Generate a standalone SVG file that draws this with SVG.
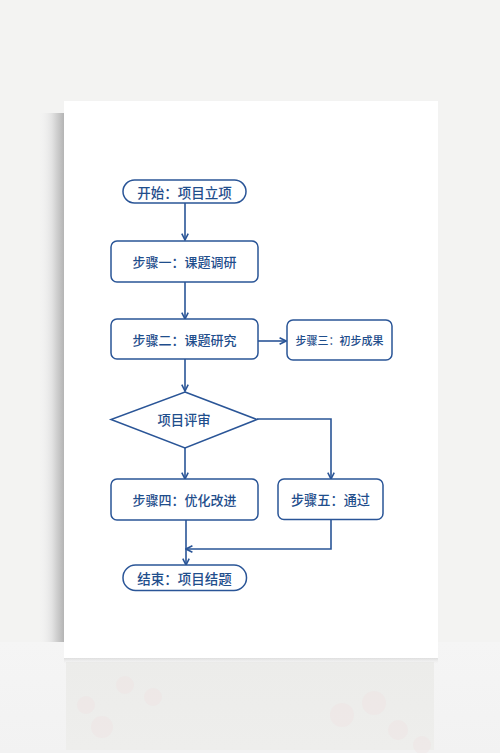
<svg xmlns="http://www.w3.org/2000/svg" width="500" height="753" viewBox="0 0 500 753">
<defs>
<linearGradient id="floor" x1="0" y1="0" x2="0" y2="1">
<stop offset="0" stop-color="#f5f5f5"/>
<stop offset="1" stop-color="#f2f2f2"/>
</linearGradient>
<linearGradient id="lshadow" x1="0" y1="0" x2="1" y2="0">
<stop offset="0" stop-color="#f0f0f0" stop-opacity="0"/>
<stop offset="0.5" stop-color="#e2e2e2"/>
<stop offset="1" stop-color="#b4b4b4"/>
</linearGradient>
<linearGradient id="bshadow" x1="0" y1="0" x2="0" y2="1">
<stop offset="0" stop-color="#a8a8a8"/>
<stop offset="1" stop-color="#e8e8e8" stop-opacity="0"/>
</linearGradient>
<linearGradient id="refl" x1="0" y1="0" x2="0" y2="1">
<stop offset="0" stop-color="#ececea"/>
<stop offset="1" stop-color="#eeeeec"/>
</linearGradient>
<marker id="arr" viewBox="0 0 10 10" refX="9" refY="5" markerWidth="8" markerHeight="8" markerUnits="userSpaceOnUse" orient="auto">
<path d="M1,1 L9,5 L1,9" fill="none" stroke="#2a5597" stroke-width="2"/>
</marker>
<style>
.box{fill:#fff;stroke:#2a5597;stroke-width:1.5}
.t{font-family:"Noto Sans CJK SC","Noto Sans",sans-serif;fill:#1f4e8c;text-anchor:middle;dominant-baseline:central;font-weight:500}
.c{fill:none;stroke:#2a5597;stroke-width:1.6}
</style>
</defs>
<!-- background -->
<rect x="0" y="0" width="500" height="753" fill="#f3f3f2"/>
<rect x="0" y="642" width="500" height="111" fill="url(#floor)"/>
<rect x="66" y="662" width="368" height="88" fill="url(#refl)"/>
<g fill="#f1dfe0" opacity="0.3">
<circle cx="125" cy="685" r="9"/><circle cx="153" cy="697" r="9"/><circle cx="86" cy="705" r="9"/><circle cx="102" cy="727" r="11"/>
<circle cx="342" cy="715" r="12"/><circle cx="374" cy="703" r="12"/><circle cx="398" cy="730" r="10"/><circle cx="422" cy="745" r="9"/>
</g>
<rect x="40" y="113" width="24" height="529" fill="url(#lshadow)"/>
<rect x="64" y="656" width="374" height="8" fill="url(#bshadow)" opacity="0.5"/>
<!-- paper -->
<rect x="64" y="101" width="374" height="557" fill="#ffffff"/>

<g id="connectors">
<line class="c" x1="185" y1="203" x2="185" y2="240" marker-end="url(#arr)"/>
<line class="c" x1="185" y1="282" x2="185" y2="319" marker-end="url(#arr)"/>
<line class="c" x1="258" y1="341" x2="286" y2="341" marker-end="url(#arr)"/>
<line class="c" x1="185" y1="359" x2="185" y2="391" marker-end="url(#arr)"/>
<line class="c" x1="185" y1="448" x2="185" y2="479" marker-end="url(#arr)"/>
<polyline class="c" points="257,419 331,419 331,479" marker-end="url(#arr)"/>
<line class="c" x1="186" y1="520" x2="186" y2="565" marker-end="url(#arr)"/>
<polyline class="c" points="331,520 331,549 186,549" marker-end="url(#arr)"/>
</g>

<g id="start">
<rect class="box" x="123" y="180" width="123" height="23" rx="11.5"/>
<text class="t" x="184.5" y="191.5" font-size="13.5">开始：项目立项</text>
</g>
<g id="step1">
<rect class="box" x="111" y="241" width="147" height="41" rx="6"/>
<text class="t" x="184.5" y="261.5" font-size="13">步骤一：课题调研</text>
</g>
<g id="step2">
<rect class="box" x="111" y="319" width="147" height="40" rx="6"/>
<text class="t" x="184.5" y="339" font-size="13">步骤二：课题研究</text>
</g>
<g id="step3">
<rect class="box" x="287" y="320" width="105" height="40" rx="6"/>
<text class="t" x="339.5" y="340" font-size="11">步骤三：初步成果</text>
</g>
<g id="review">
<polygon class="box" points="185,392 257,419.5 185,448 111,419.5"/>
<text class="t" x="184" y="419" font-size="13.3">项目评审</text>
</g>
<g id="step4">
<rect class="box" x="111" y="479" width="147" height="41" rx="6"/>
<text class="t" x="184.5" y="499.5" font-size="13">步骤四：优化改进</text>
</g>
<g id="step5">
<rect class="box" x="278" y="479" width="105" height="40.5" rx="6"/>
<text class="t" x="330.5" y="499" font-size="13.2">步骤五：通过</text>
</g>
<g id="end">
<rect class="box" x="123" y="565" width="123.5" height="25.5" rx="12.5"/>
<text class="t" x="184.5" y="577.5" font-size="13.5">结束：项目结题</text>
</g>
</svg>
